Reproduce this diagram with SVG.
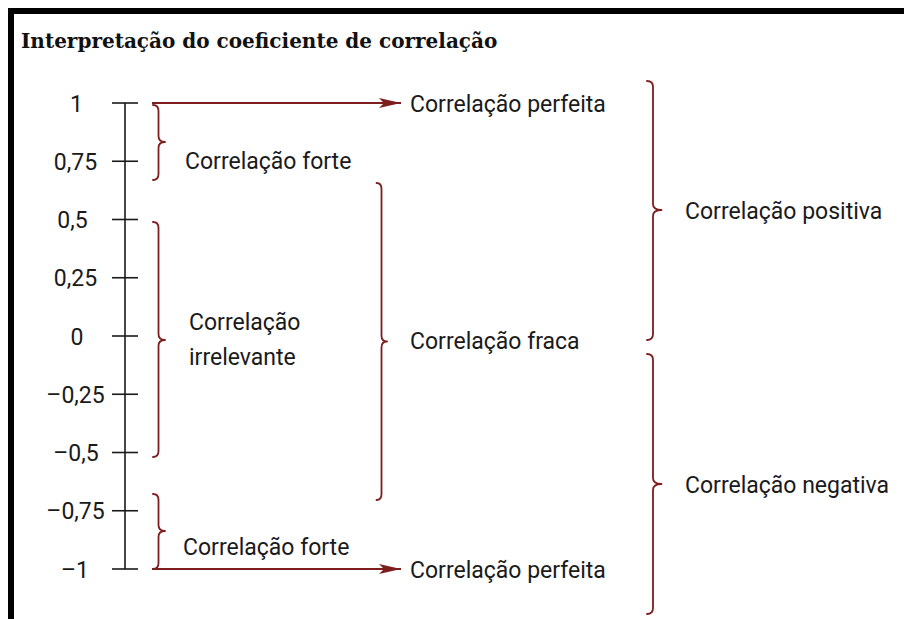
<svg xmlns="http://www.w3.org/2000/svg" width="904" height="619" viewBox="0 0 904 619">
<defs>
<style>
.t{font-family:Roboto,"Liberation Sans",sans-serif;font-size:23px;fill:#1a1a1a}
.v{font-family:Roboto,"Liberation Sans",sans-serif;font-size:23px;fill:#1a1a1a;text-anchor:middle}
.title{font-family:"DejaVu Serif",serif;font-weight:bold;font-size:20px;fill:#111}
.br{fill:none;stroke:#7e1d1d;stroke-width:1.8;stroke-linejoin:round;stroke-linecap:round}
.ax{stroke:#1a1a1a;stroke-width:1.6;fill:none}
.ar{stroke:#7e1d1d;stroke-width:1.8;fill:none}
</style>
<marker id="ah" markerUnits="userSpaceOnUse" markerWidth="24" markerHeight="12" refX="22" refY="6" orient="auto">
<path d="M0,1 L22,6 L0,11 L5,6 z" fill="#7e1d1d"/>
</marker>
</defs>
<rect width="904" height="619" fill="#fff"/>
<rect x="8" y="8" width="896" height="6" fill="#000"/>
<rect x="8" y="8" width="6" height="611" fill="#000"/>
<text class="title" x="21" y="48">Interpretação do coeficiente de correlação</text>

<g id="axis">
<line class="ax" x1="125" y1="103" x2="125" y2="569"/>
<line class="ax" x1="112" y1="103" x2="138" y2="103"/>
<line class="ax" x1="112" y1="161.25" x2="138" y2="161.25"/>
<line class="ax" x1="112" y1="219.5" x2="138" y2="219.5"/>
<line class="ax" x1="112" y1="277.75" x2="138" y2="277.75"/>
<line class="ax" x1="112" y1="336" x2="138" y2="336"/>
<line class="ax" x1="112" y1="394.25" x2="138" y2="394.25"/>
<line class="ax" x1="112" y1="452.5" x2="138" y2="452.5"/>
<line class="ax" x1="112" y1="510.75" x2="138" y2="510.75"/>
<line class="ax" x1="112" y1="569" x2="138" y2="569"/>
<text class="v" x="76.5" y="111.5">1</text>
<text class="v" x="75.5" y="169.75">0,75</text>
<text class="v" x="72.5" y="228">0,5</text>
<text class="v" x="75.5" y="286.25">0,25</text>
<text class="v" x="77" y="344.5">0</text>
<text class="v" x="75.5" y="402.75">–0,25</text>
<text class="v" x="76" y="461">–0,5</text>
<text class="v" x="75.5" y="519.25">–0,75</text>
<text class="v" x="75" y="577.5">–1</text>
</g>

<g id="connectors">
<line class="ar" x1="152" y1="103" x2="401" y2="103" marker-end="url(#ah)"/>
<line class="ar" x1="152" y1="569" x2="401" y2="569" marker-end="url(#ah)"/>
</g>

<g id="forte-top">
<path class="br" d="M153,105 Q158.5,105 158.5,111 L158.5,136 Q158.5,142 165,142 Q158.5,142 158.5,148 L158.5,174 Q158.5,180 153,180"/>
<text class="t" x="185" y="168.5">Correlação forte</text>
</g>

<g id="irrelevante">
<path class="br" d="M153,222 Q158.5,222 158.5,228 L158.5,334 Q158.5,340 165,340 Q158.5,340 158.5,346 L158.5,451 Q158.5,457 153,457"/>
<text class="t" x="189" y="330">Correlação</text>
<text class="t" x="189" y="365">irrelevante</text>
</g>

<g id="forte-bottom">
<path class="br" d="M153,494 Q158.5,494 158.5,500 L158.5,525 Q158.5,531 165,531 Q158.5,531 158.5,537 L158.5,563 Q158.5,569 153,569"/>
<text class="t" x="183" y="555">Correlação forte</text>
</g>

<g id="perfeita-top">
<text class="t" x="410" y="111.5">Correlação perfeita</text>
</g>

<g id="perfeita-bottom">
<text class="t" x="410" y="577.5">Correlação perfeita</text>
</g>

<g id="fraca">
<path class="br" d="M376.5,183 Q381.5,183 381.5,189 L381.5,335.5 Q381.5,341.5 387,341.5 Q381.5,341.5 381.5,347.5 L381.5,494 Q381.5,500 376.5,500"/>
<text class="t" x="410" y="349">Correlação fraca</text>
</g>

<g id="positiva">
<path class="br" d="M647,81 Q653,81 653,87 L653,204 Q653,210 661.5,210 Q653,210 653,216 L653,334 Q653,340 647,340"/>
<text class="t" x="685" y="219">Correlação positiva</text>
</g>

<g id="negativa">
<path class="br" d="M647,354 Q653,354 653,360 L653,478 Q653,484 661.5,484 Q653,484 653,490 L653,608 Q653,614 647,614"/>
<text class="t" x="685" y="493">Correlação negativa</text>
</g>
</svg>
